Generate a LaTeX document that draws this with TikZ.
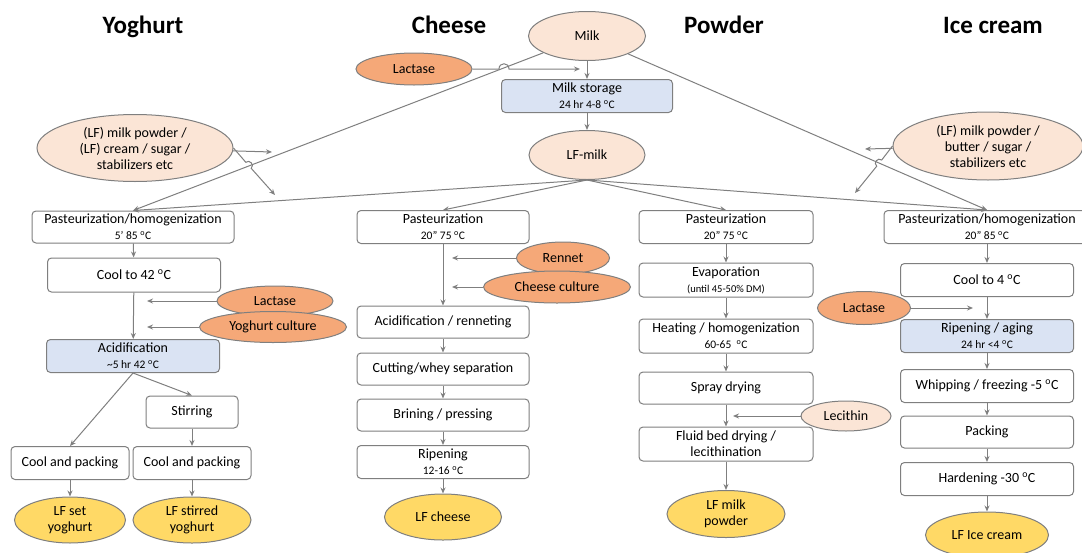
\documentclass[tikz,border=0pt]{standalone}
\usepackage{fontspec}
\setmainfont{Carlito}
\usetikzlibrary{shapes.geometric,arrows.meta}

\definecolor{linegray}{HTML}{7F7F7F}
\definecolor{peach}{HTML}{FBE5D6}
\definecolor{lactorange}{HTML}{F5A878}
\definecolor{boxblue}{HTML}{DAE3F3}
\definecolor{gold}{HTML}{FFD966}

\newcommand{\dC}{\textsuperscript{o}C}
\newcommand{\subt}[1]{{\fontsize{11.5}{12}\selectfont #1}}

\tikzset{
  box/.style={draw=linegray, line width=1pt, rounded corners=4pt, fill=white,
    align=center, inner sep=1pt, font=\fontsize{14}{16}\selectfont},
  bluebox/.style={box, fill=boxblue},
  oval/.style={ellipse, draw=linegray, line width=1pt, align=center,
    inner sep=0pt, font=\fontsize{14}{16}\selectfont},
  lightoval/.style={oval, fill=peach},
  darkoval/.style={oval, fill=lactorange},
  endoval/.style={oval, fill=gold},
  arr/.style={draw=linegray, line width=1pt, -{Stealth[length=6pt,width=5pt]}},
  title/.style={anchor=base, font=\bfseries\fontsize{25}{30}\selectfont}
}

\begin{document}
\begin{tikzpicture}[x=1pt, y=-1pt]
    \useasboundingbox (0,0) rectangle (1082,552);

    % column titles
    \node (tyog) at (143,33) [title] {Yoghurt};
    \node (tche) at (449,33) [title] {Cheese};
    \node (tpow) at (724,33) [title] {Powder};
    \node (tice) at (993,33) [title] {Ice cream};

    % milk and storage
    \node (milk) at (587,36) [lightoval, minimum width=117, minimum height=49] {Milk};
    \node (lac0) at (414,69) [darkoval, minimum width=116, minimum height=32] {Lactase};
    \node (store) at (587,96) [bluebox, minimum width=171, minimum height=33] {Milk storage\\\subt{24 hr 4-8 \dC}};
    \node (lf) at (587,155) [lightoval, minimum width=116, minimum height=49] {LF-milk};
    \node (addy) at (135,148) [lightoval, minimum width=196, minimum height=67] {(LF) milk powder /\\(LF) cream / sugar /\\stabilizers etc};
    \node (addi) at (988,146) [lightoval, minimum width=190, minimum height=68] {(LF) milk powder /\\butter / sugar /\\stabilizers etc};

    % yoghurt
    \node (y1) at (133,227) [box, minimum width=202, minimum height=32] {Pasteurization/homogenization\\\subt{5’ 85 \dC}};
    \node (y2) at (134,275) [box, minimum width=173, minimum height=34] {Cool to 42 \dC};
    \node (ylac) at (275,301) [darkoval, minimum width=116, minimum height=30] {Lactase};
    \node (ycul) at (273,327) [darkoval, minimum width=147, minimum height=31] {Yoghurt culture};
    \node (y3) at (133,356) [bluebox, minimum width=173, minimum height=33] {Acidification\\\subt{\textasciitilde5 hr 42 \dC}};
    \node (y4) at (192,412) [box, minimum width=92, minimum height=32] {Stirring};
    \node (y5) at (70,463) [box, minimum width=118, minimum height=33] {Cool and packing};
    \node (y6) at (192,463) [box, minimum width=118, minimum height=33] {Cool and packing};
    \node (y7) at (70,520) [endoval, minimum width=111, minimum height=46] {LF set\\yoghurt};
    \node (y8) at (192,520) [endoval, minimum width=118, minimum height=46] {LF stirred\\yoghurt};

    % cheese
    \node (c1) at (443,227) [box, minimum width=172, minimum height=33] {Pasteurization\\\subt{20” 75 \dC}};
    \node (cren) at (563,258) [darkoval, minimum width=93, minimum height=32] {Rennet};
    \node (ccul) at (557,287) [darkoval, minimum width=147, minimum height=32] {Cheese culture};
    \node (c2) at (443,322) [box, minimum width=172, minimum height=32] {Acidification / renneting};
    \node (c3) at (443,369) [box, minimum width=172, minimum height=32] {Cutting/whey separation};
    \node (c4) at (443,415) [box, minimum width=172, minimum height=32] {Brining / pressing};
    \node (c5) at (443,462) [box, minimum width=172, minimum height=33] {Ripening\\\subt{12-16 \dC}};
    \node (c6) at (443,517) [endoval, minimum width=117, minimum height=46] {LF cheese};

    % powder
    \node (p1) at (726,227) [box, minimum width=174, minimum height=33] {Pasteurization\\\subt{20” 75 \dC}};
    \node (p2) at (726,280) [box, minimum width=174, minimum height=34] {Evaporation\\{\fontsize{10.5}{11}\selectfont (until 45-50\% DM)}};
    \node (p3) at (726,336) [box, minimum width=174, minimum height=34] {Heating / homogenization\\\subt{60-65 \ \dC}};
    \node (p4) at (726,388) [box, minimum width=174, minimum height=32] {Spray drying};
    \node (plec) at (846,416) [lightoval, minimum width=90, minimum height=30] {Lecithin};
    \node (p5) at (726,444) [box, minimum width=174, minimum height=34] {Fluid bed drying /\\lecithination};
    \node (p6) at (726,514) [endoval, minimum width=118, minimum height=47] {LF milk\\powder};

    % ice cream
    \node (i1) at (987,227) [box, minimum width=206, minimum height=33] {Pasteurization/homogenization\\\subt{20” 85 \dC}};
    \node (i2) at (987,280) [box, minimum width=173, minimum height=33] {Cool to 4 \dC};
    \node (ilac) at (864,308) [darkoval, minimum width=93, minimum height=33] {Lactase};
    \node (i3) at (987,336) [bluebox, minimum width=173, minimum height=33] {Ripening / aging\\\subt{24 hr <4 \dC}};
    \node (i4) at (987,386) [box, minimum width=173, minimum height=33] {Whipping / freezing -5 \dC};
    \node (i5) at (987,432) [box, minimum width=173, minimum height=32] {Packing};
    \node (i6) at (987,479) [box, minimum width=173, minimum height=33] {Hardening -30 \dC};
    \node (i7) at (987,535) [endoval, minimum width=123, minimum height=46] {LF Ice cream};

    % free ends of the input arrows
    \coordinate (lac0end) at (580,69);
    \coordinate (ya) at (272,152);
    \coordinate (yb) at (275,195);
    \coordinate (ia) at (865,149);
    \coordinate (ib) at (855,193);
    \coordinate (ylacend) at (147,301);
    \coordinate (yculend) at (147,327);
    \coordinate (crenend) at (452,258);
    \coordinate (cculend) at (452,287);
    \coordinate (plecend) at (733,416);
    \coordinate (ilacend) at (973,308);

    % top part
    \draw [arr] (milk) -- (store);
    \draw [arr] (store) -- (lf);
    \draw [arr] (lac0) -- (499,69) .. controls (499,62) and (509,62) .. (509,69) -- (lac0end);
    \draw [arr] (milk) -- (y1.north);
    \draw [arr] (milk) -- (i1.north);
    \draw [arr] (lf.south) -- (y1.north);
    \draw [arr] (lf.south) -- (c1.north);
    \draw [arr] (lf.south) -- (p1.north);
    \draw [arr] (lf.south) -- (i1.north);
    \draw [arr] (addy) -- (ya);
    \draw [arr] (addy.east) -- (245.8,162.3) .. controls (249.5,159) and (254.9,165) .. (251.2,168.3) -- (yb);
    \draw [arr] (addi) -- (ia);
    \draw [arr] (addi.west) -- (881.7,160) .. controls (877.8,156.9) and (872.8,163.1) .. (876.7,166.2) -- (ib);

    % yoghurt
    \draw [arr] (y1) -- (y2);
    \draw [arr] (y2) -- (y3);
    \draw [arr] (ylac) -- (ylacend);
    \draw [arr] (ycul) -- (yculend);
    \draw [arr] (y3.south) -- (y5.north);
    \draw [arr] (y3.south) -- (y4.north);
    \draw [arr] (y4) -- (y6);
    \draw [arr] (y5) -- (y7);
    \draw [arr] (y6) -- (y8);

    % cheese
    \draw [arr] (c1) -- (c2);
    \draw [arr] (cren) -- (crenend);
    \draw [arr] (ccul) -- (cculend);
    \draw [arr] (c2) -- (c3);
    \draw [arr] (c3) -- (c4);
    \draw [arr] (c4) -- (c5);
    \draw [arr] (c5) -- (c6);

    % powder
    \draw [arr] (p1) -- (p2);
    \draw [arr] (p2) -- (p3);
    \draw [arr] (p3) -- (p4);
    \draw [arr] (p4) -- (p5);
    \draw [arr] (plec) -- (plecend);
    \draw [arr] (p5) -- (p6);

    % ice cream
    \draw [arr] (i1) -- (i2);
    \draw [arr] (i2) -- (i3);
    \draw [arr] (ilac) -- (ilacend);
    \draw [arr] (i3) -- (i4);
    \draw [arr] (i4) -- (i5);
    \draw [arr] (i5) -- (i6);
    \draw [arr] (i6) -- (i7);
\end{tikzpicture}
\end{document}
